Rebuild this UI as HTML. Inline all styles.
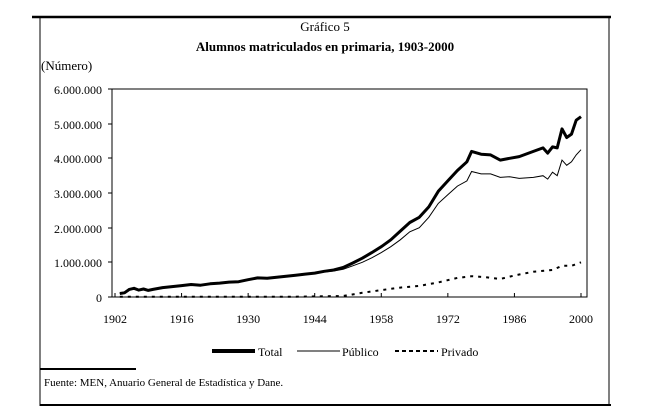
<!DOCTYPE html>
<html><head><meta charset="utf-8"><style>
html,body{margin:0;padding:0;background:#fff;}
svg{display:block;font-family:"Liberation Serif",serif;}
</style></head><body>
<svg id="s" width="650" height="418" xmlns="http://www.w3.org/2000/svg">
<line x1="32" y1="17" x2="611" y2="17" stroke="#000" stroke-width="2.5"/>
<line x1="40" y1="17" x2="40" y2="406" stroke="#000" stroke-width="1"/>
<line x1="609" y1="17" x2="609" y2="406" stroke="#000" stroke-width="1"/>
<line x1="40" y1="405" x2="611" y2="405" stroke="#000" stroke-width="2"/>
<line x1="40" y1="369" x2="136" y2="369" stroke="#000" stroke-width="2"/>
<text x="325" y="31" font-size="13" text-anchor="middle">Gráfico 5</text>
<text x="325" y="51" font-size="13" font-weight="bold" text-anchor="middle">Alumnos matriculados en primaria, 1903-2000</text>
<text x="41" y="70" font-size="13">(Número)</text>
<rect x="112" y="89" width="475" height="208" fill="none" stroke="#000" stroke-width="1"/>
<g font-size="12" text-anchor="end">
<text x="102" y="94">6.000.000</text>
<text x="102" y="129">5.000.000</text>
<text x="102" y="163">4.000.000</text>
<text x="102" y="198">3.000.000</text>
<text x="102" y="233">2.000.000</text>
<text x="102" y="267">1.000.000</text>
<text x="102" y="302">0</text>
</g>
<g stroke="#000" stroke-width="1">
<line x1="108" y1="89" x2="112" y2="89"/><line x1="108" y1="124" x2="112" y2="124"/>
<line x1="108" y1="158" x2="112" y2="158"/><line x1="108" y1="193" x2="112" y2="193"/>
<line x1="108" y1="228" x2="112" y2="228"/><line x1="108" y1="262" x2="112" y2="262"/>
<line x1="108" y1="297" x2="112" y2="297"/>
</g>
<g id="xt" font-size="12" text-anchor="middle"></g>
<g id="ser"></g>
<g font-size="12">
<line x1="212" y1="351" x2="255" y2="351" stroke="#000" stroke-width="4"/>
<text x="258" y="356">Total</text>
<line x1="297" y1="351" x2="340" y2="351" stroke="#000" stroke-width="1"/>
<text x="342" y="356">Público</text>
<line x1="395" y1="351" x2="438" y2="351" stroke="#000" stroke-width="2" stroke-dasharray="4,3"/>
<text x="441" y="356">Privado</text>
<text x="44" y="386" font-size="11">Fuente: MEN, Anuario General de Estadística  y Dane.</text>
</g>
</svg>
<script>
var X=function(y){return 115+(y-1902)*4.755;},Y=function(v){return 297-v*34.67;};
var xt=document.getElementById('xt'),h='';
[1902,1916,1930,1944,1958,1972,1986,2000].forEach(function(y){var x=X(y);
h+='<line x1="'+x+'" y1="293" x2="'+x+'" y2="297" stroke="#000"/><text x="'+x+'" y="323">'+y+'</text>';});
xt.innerHTML=h;
function P(a){return a.map(function(p){return X(p[0]).toFixed(1)+','+Y(p[1]).toFixed(1)}).join(' ');}
var tot=[[1903,.1],[1904,.12],[1905,.22],[1906,.25],[1907,.2],[1908,.23],[1909,.19],[1910,.22],[1912,.27],[1914,.3],[1916,.33],[1918,.36],[1920,.34],[1922,.38],[1924,.4],[1926,.43],[1928,.44],[1930,.5],[1932,.55],[1934,.54],[1936,.57],[1938,.6],[1940,.63],[1942,.66],[1944,.69],[1946,.74],[1948,.78],[1950,.85],[1952,.98],[1954,1.12],[1956,1.28],[1958,1.45],[1960,1.65],[1962,1.9],[1964,2.15],[1966,2.3],[1968,2.6],[1970,3.05],[1972,3.35],[1974,3.65],[1976,3.9],[1977,4.2],[1979,4.12],[1981,4.1],[1983,3.95],[1985,4.0],[1987,4.05],[1990,4.2],[1992,4.3],[1993,4.15],[1994,4.33],[1995,4.3],[1996,4.85],[1997,4.6],[1998,4.7],[1999,5.1],[2000,5.2]];
var pub=[[1903,.1],[1904,.12],[1905,.22],[1906,.25],[1907,.2],[1908,.23],[1909,.19],[1910,.22],[1912,.27],[1914,.3],[1916,.33],[1918,.36],[1920,.34],[1922,.38],[1924,.4],[1926,.43],[1928,.44],[1930,.5],[1932,.55],[1934,.54],[1936,.57],[1938,.6],[1940,.63],[1942,.66],[1944,.69],[1946,.72],[1948,.75],[1950,.8],[1952,.9],[1954,1.0],[1956,1.13],[1958,1.28],[1960,1.45],[1962,1.65],[1964,1.88],[1966,2.0],[1968,2.3],[1970,2.7],[1972,2.95],[1974,3.2],[1976,3.35],[1977,3.62],[1979,3.55],[1981,3.55],[1983,3.45],[1985,3.47],[1987,3.42],[1990,3.45],[1992,3.5],[1993,3.4],[1994,3.6],[1995,3.5],[1996,3.95],[1997,3.8],[1998,3.9],[1999,4.1],[2000,4.25]];
var pri=[[1903,.01],[1940,.01],[1950,.03],[1954,.12],[1958,.2],[1962,.27],[1966,.32],[1970,.42],[1974,.55],[1977,.6],[1980,.57],[1983,.52],[1986,.62],[1990,.73],[1994,.78],[1996,.9],[1998,.9],[2000,1.0]];
document.getElementById('ser').innerHTML=
'<polyline points="'+P(pri)+'" fill="none" stroke="#000" stroke-width="2" stroke-dasharray="3,5"/>'+
'<polyline points="'+P(pub)+'" fill="none" stroke="#000" stroke-width="1"/>'+
'<polyline points="'+P(tot)+'" fill="none" stroke="#000" stroke-width="3" stroke-linejoin="round"/>';
</script>
</body></html>
